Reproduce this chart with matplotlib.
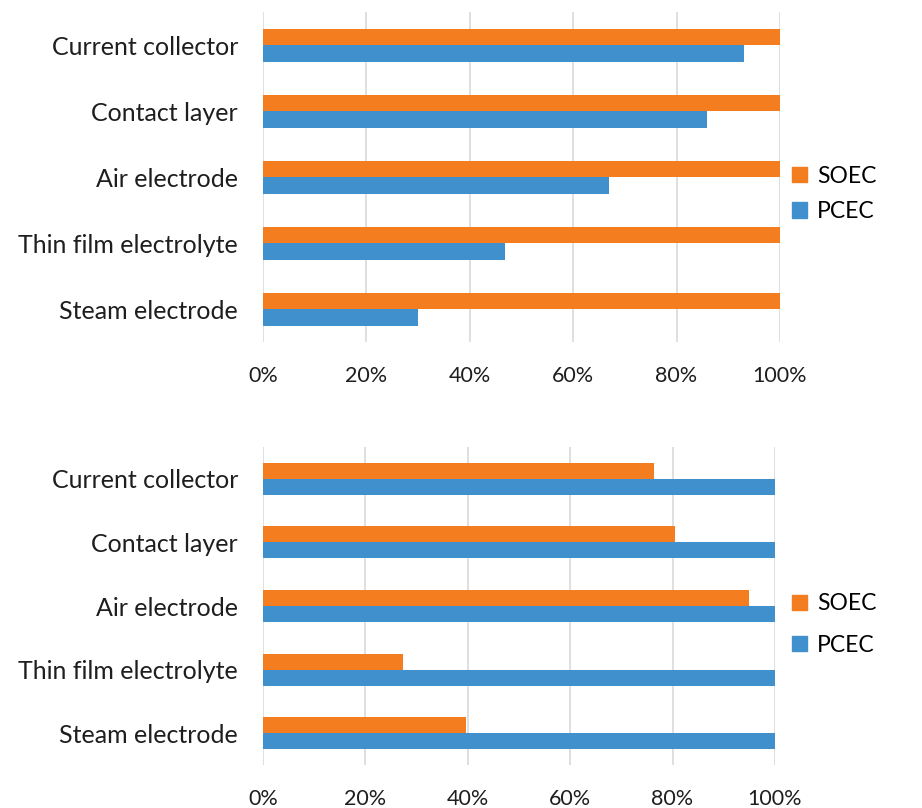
from matplotlib import pyplot as plt
from matplotlib.patches import Patch
from matplotlib.ticker import PercentFormatter
import numpy as np

categories = ["Current collector", "Contact layer", "Air electrode",
              "Thin film electrolyte", "Steam electrode"]
series = ["SOEC", "PCEC"]

top_soec = [100, 100, 100, 100, 100]
top_pcec = [93.1, 85.8, 67.0, 46.9, 29.9]

bottom_soec = [76.4, 80.4, 94.9, 27.4, 39.7]
bottom_pcec = [100, 100, 100, 100, 100]

xticks = [0, 20, 40, 60, 80, 100]

orange = "#F47D20"
blue = "#4190CE"
grid_c = "#D9D9D9"
text_c = "#1E1E1E"

plt.rcParams["font.family"] = ["Lato", "DejaVu Sans"]


def draw_panel(ax, soec, pcec):
    y = np.arange(len(categories))
    h = 0.25
    ax.barh(y - h / 2, np.array(soec) / 100, height=h, color=orange, zorder=3)
    ax.barh(y + h / 2, np.array(pcec) / 100, height=h, color=blue, zorder=3)
    ax.set_ylim(len(categories) - 0.5, -0.5)
    ax.set_yticks(y)
    ax.set_yticklabels(categories, fontsize=18, color=text_c)
    ax.set_xlim(0, 1)
    ax.set_xticks(np.array(xticks) / 100)
    ax.xaxis.set_major_formatter(PercentFormatter(1.0, decimals=0))
    ax.tick_params(axis="x", labelsize=15.5, colors=text_c, length=0, pad=17)
    ax.tick_params(axis="y", length=0, pad=18)
    ax.grid(axis="x", color=grid_c, linewidth=1.2, zorder=0)
    for s in ax.spines.values():
        s.set_visible(False)
    return [Patch(color=c, label=s) for c, s in zip([orange, blue], series)]


fig = plt.figure(figsize=(9.22, 8.08), dpi=100)
ax1 = fig.add_axes([0.2852, 0.5767, 0.5607, 0.4084])
ax2 = fig.add_axes([0.2852, 0.0532, 0.5553, 0.3936])

h1 = draw_panel(ax1, top_soec, top_pcec)
h2 = draw_panel(ax2, bottom_soec, bottom_pcec)

legend_kw = dict(frameon=False, fontsize=16.5, handlelength=0.65,
                 handleheight=0.65, handletextpad=0.45, borderpad=0,
                 borderaxespad=0, loc="center left")
fig.legend(handles=h1, bbox_to_anchor=(0.859, 0.760), labelspacing=0.62,
           **legend_kw)
fig.legend(handles=h2, bbox_to_anchor=(0.859, 0.227), labelspacing=0.9,
           **legend_kw)

fig.savefig("out.png", dpi=100)
